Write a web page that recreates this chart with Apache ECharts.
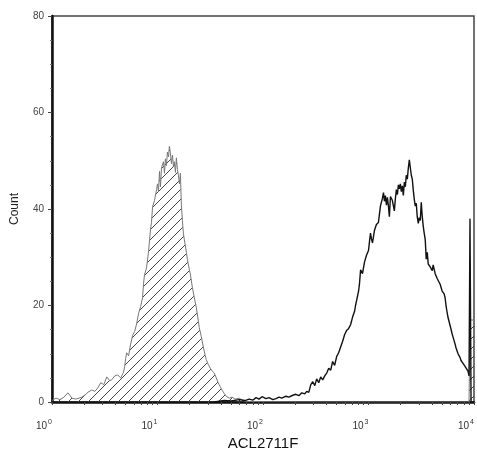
<!DOCTYPE html>
<html>
<head>
<meta charset="utf-8">
<script src="https://cdn.jsdelivr.net/npm/echarts@6/dist/echarts.min.js"></script>
<style>
html,body{margin:0;padding:0;background:#fff;}
#chart{width:477px;height:456px;}
</style>
</head>
<body>
<div id="chart"></div>
<script>
// x positions are stored as decades (log10 of the channel value)
const grayExp = [0.000,0.038,0.075,0.113,0.151,0.189,0.226,0.283,0.321,0.340,0.377,0.406,0.434,0.462,0.491,0.519,0.547,0.566,0.594,0.623,0.651,0.679,0.689,0.698,0.708,0.726,0.745,0.764,0.783,0.802,0.821,0.840,0.858,0.868,0.877,0.896,0.915,0.925,0.934,0.943,0.953,0.972,0.991,1.000,1.009,1.019,1.028,1.038,1.057,1.066,1.075,1.085,1.094,1.104,1.113,1.123,1.132,1.142,1.151,1.160,1.170,1.179,1.189,1.198,1.208,1.217,1.226,1.236,1.245,1.255,1.274,1.283,1.302,1.311,1.330,1.349,1.368,1.387,1.396,1.415,1.434,1.453,1.462,1.481,1.500,1.519,1.538,1.557,1.575,1.594,1.613,1.632,1.651,1.679,1.708,1.736,1.774,1.811,1.849,2.500,3.500,3.953,3.962,4.000];
const grayCount = [0.3,0.8,0.5,1.0,1.9,0.8,0.6,1.0,1.6,2.0,2.5,2.2,2.9,4.0,3.6,5.2,4.4,4.6,5.4,5.6,5.0,6.2,7.4,9.0,10.2,9.6,12.0,13.8,14.6,16.2,18.4,19.8,21.6,24.6,26.4,27.8,31.2,33.6,35.8,37.2,40.4,41.8,44.0,45.2,43.6,47.8,44.6,48.6,49.8,47.4,50.4,49.0,51.8,50.8,53.0,51.4,49.4,51.2,48.8,49.8,47.6,50.6,48.2,47.0,45.2,47.4,41.0,37.6,35.0,33.6,31.0,29.6,27.4,26.6,23.8,21.6,19.6,16.8,15.4,13.6,11.4,9.6,8.8,7.8,7.0,6.4,6.0,5.0,4.0,3.2,2.4,1.8,1.2,0.8,1.0,0.6,0.8,0.3,0.1,0,0,0,17,17];

const blackExp = [1.538,1.632,1.698,1.774,1.830,1.868,1.906,1.934,1.962,1.991,2.028,2.057,2.094,2.123,2.151,2.179,2.217,2.245,2.283,2.311,2.340,2.368,2.396,2.415,2.434,2.453,2.472,2.491,2.509,2.528,2.547,2.566,2.585,2.604,2.623,2.642,2.660,2.679,2.698,2.717,2.736,2.755,2.774,2.792,2.811,2.830,2.849,2.868,2.877,2.887,2.906,2.915,2.925,2.943,2.962,2.981,3.000,3.009,3.019,3.028,3.038,3.057,3.075,3.094,3.104,3.113,3.132,3.142,3.151,3.160,3.170,3.179,3.189,3.198,3.208,3.226,3.245,3.255,3.264,3.274,3.283,3.292,3.302,3.311,3.321,3.330,3.340,3.349,3.358,3.368,3.377,3.387,3.396,3.406,3.415,3.425,3.434,3.443,3.453,3.462,3.472,3.481,3.491,3.500,3.509,3.519,3.528,3.538,3.547,3.557,3.566,3.585,3.604,3.613,3.632,3.651,3.679,3.698,3.717,3.726,3.736,3.745,3.755,3.774,3.792,3.802,3.821,3.830,3.849,3.868,3.877,3.896,3.915,3.925,3.943,3.953,3.962,3.972];
const blackCount = [0,0.3,0.2,0.5,0.3,0.6,0.4,0.9,0.6,1.1,0.7,0.9,0.5,0.7,1.0,0.8,1.2,1.0,1.4,1.6,1.3,1.9,1.7,2.2,2.0,3.6,4.2,3.4,4.8,4.0,5.2,4.6,5.4,6.0,7.0,6.6,8.4,7.6,9.4,10.2,11.4,12.6,14.0,14.8,15.2,16.0,17.6,18.8,20.0,21.0,23.0,24.6,27.4,26.6,29.0,30.4,31.4,33.2,35.0,33.8,33.0,35.6,36.8,37.2,39.0,40.6,42.2,43.4,41.6,42.8,40.8,42.4,40.6,38.4,42.6,41.8,39.6,42.2,44.0,43.0,45.0,44.2,45.2,43.6,44.8,42.8,45.6,44.6,47.0,46.2,48.4,50.2,48.6,47.0,46.2,43.8,42.0,40.6,41.2,38.4,37.0,38.2,37.6,41.4,38.6,36.4,35.0,33.6,29.6,31.0,28.6,28.0,27.2,28.4,26.6,25.6,24.4,23.0,22.4,21.6,19.8,18.6,17.4,15.8,14.2,13.4,12.0,11.2,10.0,9.2,8.6,8.0,7.4,7.0,6.4,5.4,38.0,0];

const xMajorTicks = [1,10,100,1000,10000];
const xMinorMultipliers = [1,2,3,4,5,6,7,8,9];
const yTicks = [0,20,40,60,80];

const xTickValues = [];
[1,10,100,1000].forEach(d => xMinorMultipliers.forEach(m => xTickValues.push(d*m)));
xTickValues.push(10000);

// hatch pattern
const hatch = document.createElement('canvas');
hatch.width = 10; hatch.height = 10;
const hc = hatch.getContext('2d');
hc.strokeStyle = '#444';
hc.lineWidth = 1;
hc.beginPath();
hc.moveTo(-1, 11); hc.lineTo(11, -1);
hc.moveTo(-6, 6); hc.lineTo(6, -6);
hc.moveTo(4, 16); hc.lineTo(16, 4);
hc.stroke();

const chart = echarts.init(document.getElementById('chart'), null, {renderer: 'canvas'});
chart.setOption({
  animation: false,
  backgroundColor: '#fff',
  grid: {left: 52, right: 1, top: 16, bottom: 54, show: true, borderColor: '#444', borderWidth: 1.5, backgroundColor: 'transparent'},
  xAxis: {
    type: 'log', logBase: 10, min: 1, max: 10000,
    name: 'ACL2711F', nameLocation: 'middle', nameGap: 32,
    nameTextStyle: {fontFamily: 'Liberation Sans', fontSize: 15, color: '#111'},
    axisLine: {show: true, lineStyle: {color: '#111', width: 2.5}},
    axisTick: {show: true, length: 3, customValues: xTickValues, lineStyle: {color: '#444', width: 1}},
    minorTick: {show: false},
    splitLine: {show: false},
    axisLabel: {
      customValues: xMajorTicks,
      margin: 17,
      align: 'right',
      fontFamily: 'Liberation Sans', fontSize: 10, color: '#333',
      formatter: v => '10{s|' + Math.round(Math.log10(v)) + '}',
      rich: {s: {fontSize: 7, color: '#333', fontFamily: 'Liberation Sans', padding: [0, 0, 7, 1]}}
    }
  },
  yAxis: {
    type: 'value', min: 0, max: 80, interval: 20,
    name: 'Count', nameLocation: 'middle', nameGap: 31, nameRotate: 90,
    nameTextStyle: {fontFamily: 'Liberation Sans', fontSize: 12, color: '#222'},
    axisLine: {show: true, lineStyle: {color: '#111', width: 2.5}},
    axisTick: {show: true, length: 4, lineStyle: {color: '#444'}},
    minorTick: {show: true, splitNumber: 4, length: 2, lineStyle: {color: '#777'}},
    splitLine: {show: false},
    axisLabel: {margin: 8, fontFamily: 'Liberation Sans', fontSize: 10, color: '#444',
      customValues: yTicks}
  },
  series: [
    {
      type: 'line', name: 'control', symbol: 'none', z: 2,
      data: grayExp.map((e, i) => [Math.pow(10, e), grayCount[i]]),
      lineStyle: {color: '#777', width: 1},
      areaStyle: {color: {image: hatch, repeat: 'repeat'}, opacity: 1, origin: 'start'}
    },
    {
      type: 'line', name: 'ACL2711F', symbol: 'none', z: 3,
      data: blackExp.map((e, i) => [Math.pow(10, e), blackCount[i]]),
      lineStyle: {color: '#111', width: 1.4}
    }
  ]
});
</script>
</body>
</html>
